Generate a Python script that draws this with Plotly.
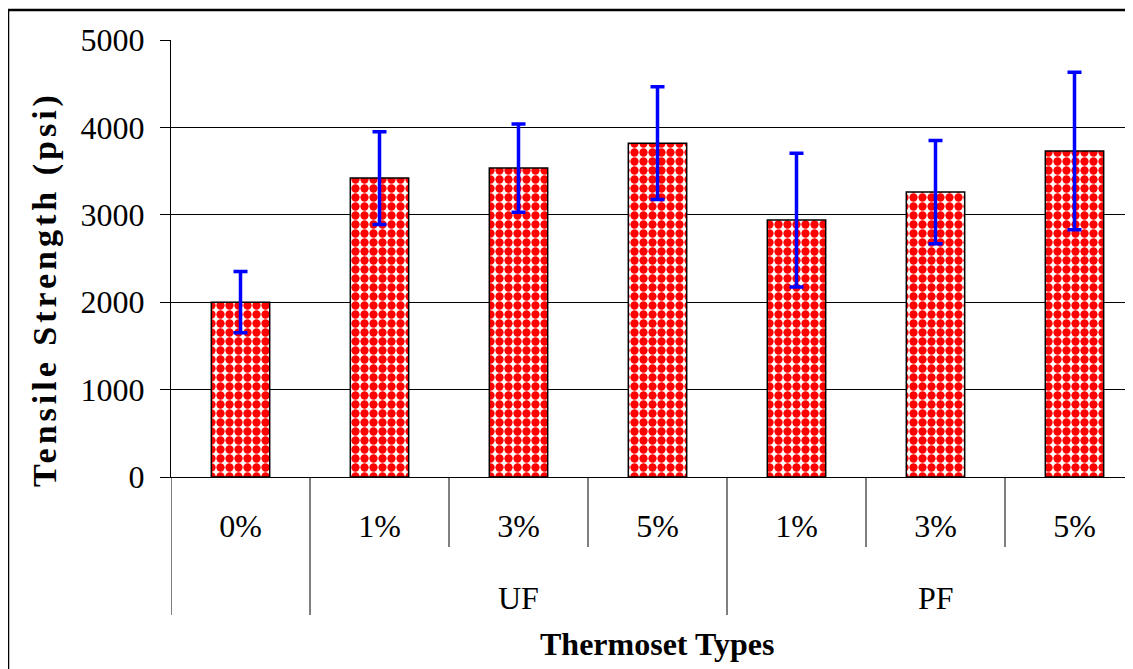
import plotly.graph_objects as go

# ---- data ----
sub_labels = ["0%", "1%", "3%", "5%", "1%", "3%", "5%"]
group_labels = ["", "UF", "UF", "UF", "PF", "PF", "PF"]
strength = [2000, 3420, 3535, 3820, 2940, 3260, 3730]
err = [350, 530, 505, 645, 765, 590, 900]
y_ticks = [0, 1000, 2000, 3000, 4000, 5000]

FONT = "Liberation Serif"
OFF = 8                      # page body margin
W, H = 1133 - OFF, 669 - OFF
L, T = 171 - OFF, 40 - OFF
AX_Y = 477 - OFF             # x-axis line (figure px)
B = H - AX_Y
plot_w = W - L
plot_h = AX_Y - T
cat_px = 139.0


def py(fig_y):
    """figure pixel y -> paper y"""
    return (AX_Y - fig_y) / plot_h


def px(fig_x):
    return (fig_x - L) / plot_w


xs = list(range(len(strength)))

fig = go.Figure()
fig.add_trace(go.Bar(
    x=xs, y=strength, width=0.42,
    marker=dict(
        color="white",
        line=dict(color="black", width=1.5),
        pattern=dict(shape=".", fgcolor="#ff0000", bgcolor="white",
                     size=9, solidity=0.66, fillmode="replace"),
    ),
    error_y=dict(type="data", array=err, visible=True,
                 color="#0000ff", thickness=3.5, width=7),
    showlegend=False,
))

x_max = -0.5 + plot_w / cat_px

shapes = []
for i in range(len(xs) + 1):
    xb = i - 0.5
    left = group_labels[i - 1] if i - 1 >= 0 else None
    right = group_labels[i] if i < len(xs) else None
    if left is None or right is None or left != right:
        y0 = py(615 - OFF)
    else:
        y0 = py(547 - OFF)
    shapes.append(dict(type="line", xref="x", yref="paper", x0=xb, x1=xb,
                       y0=0, y1=y0, line=dict(color="black", width=1)))
# outer chart border (left and top edges visible)
shapes.append(dict(type="line", xref="paper", yref="paper",
                   x0=px(0), x1=px(0), y0=py(H + 20), y1=py(10 - OFF),
                   line=dict(color="black", width=2.5), layer="above"))
shapes.append(dict(type="line", xref="paper", yref="paper",
                   x0=px(0), x1=px(W + 20), y0=py(10 - OFF), y1=py(10 - OFF),
                   line=dict(color="black", width=2.5), layer="above"))

annotations = []
groups = []
for i, g in enumerate(group_labels):
    if groups and groups[-1][0] == g:
        groups[-1][1].append(i)
    else:
        groups.append([g, [i]])
for g, idx in groups:
    if g:
        annotations.append(dict(text=g, x=sum(idx) / len(idx), xref="x",
                                y=py(598 - OFF), yref="paper",
                                showarrow=False, font=dict(family=FONT, size=32, color="black"),
                                xanchor="center", yanchor="middle"))
annotations.append(dict(text="<b>Thermoset Types</b>", x=px(657 - OFF), xref="paper",
                        y=py(644 - OFF), yref="paper", showarrow=False,
                        font=dict(family=FONT, size=32, color="black"),
                        xanchor="center", yanchor="middle"))
annotations.append(dict(text='<span style="letter-spacing:4px"><b>Tensile Strength (psi)</b></span>',
                        x=px(45 - OFF), xref="paper",
                        y=py(289 - OFF), yref="paper", showarrow=False, textangle=-90,
                        font=dict(family=FONT, size=34, color="black"),
                        xanchor="center", yanchor="middle"))

fig.update_layout(
    width=W, height=H,
    margin=dict(l=L, r=0, t=T, b=B, autoexpand=False),
    paper_bgcolor="white", plot_bgcolor="white",
    font=dict(family=FONT, size=32, color="black"),
    shapes=shapes, annotations=annotations,
    xaxis=dict(range=[-0.5, x_max], tickvals=xs, ticktext=sub_labels,
               showgrid=False, zeroline=False, showline=True, linecolor="black",
               linewidth=1, ticks="", ticklabelstandoff=21,
               tickfont=dict(family=FONT, size=32, color="black")),
    yaxis=dict(range=[0, 5000], tickvals=y_ticks, showgrid=True, gridcolor="black",
               gridwidth=1, zeroline=False, showline=True, linecolor="black",
               linewidth=1, ticks="outside", ticklen=10, tickcolor="black",
               ticklabelstandoff=9,
               tickfont=dict(family=FONT, size=32, color="black")),
)

fig.write_html("out.html")
